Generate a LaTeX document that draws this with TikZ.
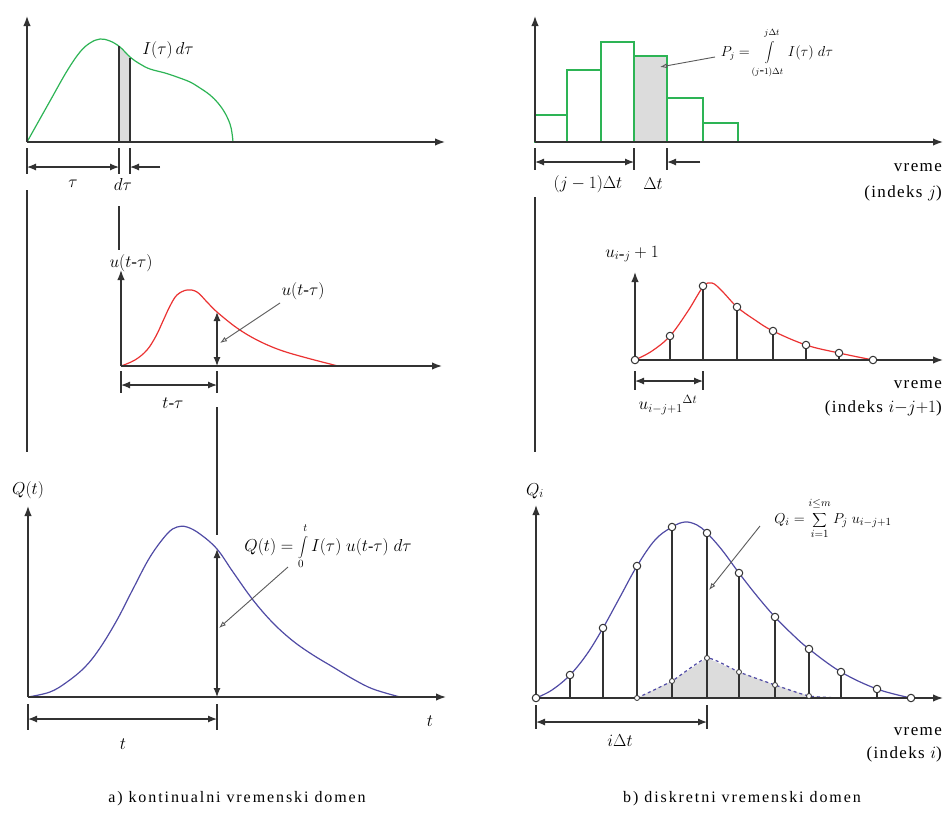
\documentclass[tikz,border=0pt]{standalone}
\usepackage{fontspec}
\setmainfont{Liberation Serif}
\usetikzlibrary{arrows.meta}
\definecolor{axc}{RGB}{50,50,50}
\definecolor{grn}{RGB}{45,180,85}
\definecolor{rd}{RGB}{235,50,50}
\definecolor{bl}{RGB}{80,75,165}
\definecolor{shd}{RGB}{220,220,220}
\definecolor{ptrc}{RGB}{90,90,90}
\newcommand{\uplim}[2]{\raisebox{#1}{$\scriptstyle #2$}}
\tikzset{
  axarrow/.style={draw=axc, line width=1.5pt, -{Latex[length=10pt,width=7.5pt]}},
  dimln/.style={draw=axc, line width=1.2pt, {Latex[length=9pt,width=7pt]}-{Latex[length=9pt,width=7pt]}},
  onearr/.style={draw=axc, line width=1.2pt, -{Latex[length=9pt,width=7pt]}},
  dimtick/.style={draw=axc, line width=1.2pt},
  connline/.style={draw=axc, line width=1.3pt},
  ptrarrow/.style={draw=ptrc, line width=0.9pt, -{Latex[length=7pt,width=5pt,open]}},
  lbl/.style={font=\fontsize{17}{19}\selectfont\addfontfeatures{LetterSpace=8}, inner sep=0pt},
  captxt/.style={font=\fontsize{16}{18}\selectfont\addfontfeatures{LetterSpace=12}, inner sep=0pt},
  bigdot/.style={circle, draw=axc, fill=white, line width=1pt, minimum size=7.5pt, inner sep=0pt},
  smalldot/.style={circle, draw=axc, fill=white, line width=0.8pt, minimum size=5pt, inner sep=0pt},
  crv/.style={line width=1.2pt},
}
\begin{document}
\begin{tikzpicture}[x=1pt,y=-1pt]
\useasboundingbox (0,0) rectangle (943,814);
\fill[white] (0,0) rectangle (943,814);

%================ TOP LEFT =================
\coordinate (tlO) at (27,142);
\fill[shd] (119,142) -- (119,46) -- (125,52) -- (130,58) -- (130,142) -- cycle;
\draw[grn,crv] plot[smooth, tension=0.6] coordinates {(27,142) (50,101) (67,71) (80,52) (90,43) (100,39) (110,41) (120,47) (130,57) (140,64) (150,69) (165,73) (177,77) (190,82) (200,88) (210,95) (218,103) (225,113) (230,124) (232,133) (233,142)};
\draw[axc, line width=1.6pt] (119,142) -- (119,46);
\draw[axc, line width=1.6pt] (130,142) -- (130,58);
\draw[axarrow] (27,142) -- (27,16);
\draw[axarrow] (tlO) -- (445,142);
\node[lbl] (Ilab) at (168,50) {$I(\tau)\,d\tau$};
% dimensions
\draw[dimtick] (27,148) -- (27,174);
\draw[dimtick] (119,148) -- (119,174);
\draw[dimtick] (130,148) -- (130,174);
\coordinate (dA1) at (27,167); \coordinate (dA2) at (119,167);
\draw[dimln] (dA1) -- (dA2);
\coordinate (dB1) at (160,167); \coordinate (dB2) at (130,167);
\draw[onearr] (dB1) -- (dB2);
\node[lbl] (taulab) at (73,184) {$\tau$};
\node[lbl] (dtaulab) at (123,184) {$d\tau$};
% connecting lines
\draw[connline] (27,190) -- (27,452);
\draw[connline] (119,206) -- (119,250);

%================ MIDDLE LEFT =================
\coordinate (mlO) at (121,366);
\draw[rd,crv] plot[smooth, tension=0.6] coordinates {(121,366) (135,360) (147,350) (156,336) (163,321) (170,306) (177,295) (187,290) (197,292) (207,302) (217,312) (237,328) (257,340) (280,350) (307,358) (338,366)};
\draw[axarrow] (mlO) -- (121,270);
\draw[axarrow] (mlO) -- (442,366);
\node[lbl] (ulab1) at (131,263) {$u(t\mbox{-}\tau)$};
\coordinate (mlT) at (217,312); \coordinate (mlB) at (217,366);
\draw[dimln] (mlB) -- (mlT);
\node[lbl] (ulab2) at (303,291) {$u(t\mbox{-}\tau)$};
\coordinate (mlP) at (220,343);
\draw[ptrarrow] (280,303) -- (mlP);
\draw[dimtick] (121,371) -- (121,393);
\draw[dimtick] (217,371) -- (217,393);
\draw[dimln] (121,385) -- (217,385);
\node[lbl] (ttaulab) at (173,403) {$t\mbox{-}\tau$};
\draw[connline] (217,407) -- (217,535);

%================ BOTTOM LEFT =================
\coordinate (blO) at (28,697);
\draw[bl,crv] plot[smooth, tension=0.6] coordinates {(28,697) (50,692) (67,682) (85,667) (100,648) (117,620) (133,589) (150,557) (167,534) (177,527) (187,527) (200,534) (217,549) (233,572) (253,600) (273,623) (293,641) (313,655) (333,667) (353,679) (373,689) (400,697)};
\draw[axarrow] (blO) -- (28,506);
\draw[axarrow] (blO) -- (446,697);
\node[lbl] (Qlab) at (28,490) {$Q(t)$};
\coordinate (blT) at (217,549); \coordinate (blB) at (217,697);
\draw[dimln] (blB) -- (blT);
\node[lbl, font=\fontsize{16}{18}\selectfont] (Qform) at (328,546) {$\displaystyle Q(t) = \int\limits_{\uplim{-3pt}{0}}^{\uplim{3pt}{t}} I(\tau)\; u(t\mbox{-}\tau)\; d\tau$};
\coordinate (blP) at (219,628);
\draw[ptrarrow] (288,567) -- (blP);
\draw[dimtick] (28,704) -- (28,730);
\draw[dimtick] (217,704) -- (217,730);
\draw[dimln] (28,719) -- (217,719);
\node[lbl] (tlab) at (123,744) {$t$};
\node[lbl] (taxlab) at (430,721) {$t$};

%================ TOP RIGHT =================
\coordinate (trO) at (535,142);
\fill[shd] (634,142) rectangle (667,56);
\draw[grn, line width=1.4pt] (535,142) rectangle (567,115);
\draw[grn, line width=1.4pt] (567,142) rectangle (601,70);
\draw[grn, line width=1.4pt] (601,142) rectangle (634,42);
\draw[grn, line width=1.4pt] (634,142) rectangle (667,56);
\draw[grn, line width=1.4pt] (667,142) rectangle (703,98);
\draw[grn, line width=1.4pt] (703,142) rectangle (738,123);
\draw[axarrow] (trO) -- (535,16);
\draw[axarrow] (trO) -- (943,142);
\node[lbl, font=\fontsize{13.5}{15}\selectfont] (Pform) at (777,53) {$\displaystyle P_j = \int\limits_{\uplim{-4pt}{(j\mbox{-}1)\Delta t}}^{\uplim{4pt}{j\Delta t}} I(\tau)\; d\tau$};
\coordinate (trP) at (660,67);
\draw[ptrarrow] (715,57) -- (trP);
\draw[dimtick] (535,148) -- (535,170);
\draw[dimtick] (634,148) -- (634,170);
\draw[dimtick] (667,148) -- (667,170);
\draw[dimln] (535,162) -- (634,162);
\draw[onearr] (700,162) -- (667,162);
\node[lbl] (jlab) at (588,184) {$(j-1)\Delta t$};
\node[lbl] (Dtlab) at (653,184) {$\Delta t$};
\node[lbl, anchor=east] (vr1) at (942,168) {vreme};
\node[lbl, anchor=east] (ix1) at (942,193) {(indeks $j$)};
\draw[connline] (535,197) -- (535,452);

%================ MIDDLE RIGHT =================
\coordinate (mrO) at (635,360);
\draw[rd,crv] plot[smooth, tension=0.6] coordinates {(635,360) (652,351) (670,336) (688,311) (703,287) (712,283) (722,291) (737,307) (755,320) (773,331) (806,345) (839,353) (873,360)};
\foreach \n/\x/\y in {2/670/336, 3/703/286, 4/737/307, 5/773/331, 6/806/345, 7/839/353} {
  \draw[axc, line width=1.1pt] (\x,360) -- (\x,\y);
}
\draw[axarrow] (mrO) -- (635,272);
\draw[axarrow] (mrO) -- (943,360);
\foreach \n/\x/\y in {1/635/360, 2/670/336, 3/703/286, 4/737/307, 5/773/331, 6/806/345, 7/839/353, 8/873/360} {
  \node[bigdot] (u\n) at (\x,\y) {};
}
\node[lbl] (ulabr) at (632,254) {$u_{i\mbox{-}j}+1$};
\draw[dimtick] (635,371) -- (635,390);
\draw[dimtick] (703,371) -- (703,390);
\draw[dimln] (635,381) -- (703,381);
\node[lbl] (udtlab) at (668,405) {$u_{i-j+1}{}^{\Delta t}$};
\node[lbl, anchor=east] (vr2) at (942,385) {vreme};
\node[lbl, anchor=east] (ix2) at (942,408) {(indeks $i{-}j{+}1$)};

%================ BOTTOM RIGHT =================
\coordinate (brO) at (536,698);
\fill[shd] plot coordinates {(637,698) (672,681) (707,658) (739,672) (775,685) (809,696) (841,698)} -- cycle;
\draw[bl,crv] plot[smooth, tension=0.6] coordinates {(536,698) (552,690) (570,675) (587,654) (603,628) (620,597) (637,566) (655,540) (672,527) (685,522) (697,525) (707,533) (722,550) (739,573) (757,596) (775,617) (792,634) (809,649) (841,672) (877,689) (911,698)};
\draw[bl, line width=1.2pt, dashed] plot[smooth, tension=0.3] coordinates {(637,698) (672,681) (707,658) (739,672) (775,685) (809,696) (841,698)};
\foreach \n/\x/\y in {2/570/675, 3/603/628, 4/637/566, 5/672/527, 6/707/533, 7/739/573, 8/775/617, 9/809/649, 10/841/672, 11/877/689} {
  \draw[axc, line width=1.2pt] (\x,698) -- (\x,\y);
}
\draw[axarrow] (brO) -- (536,505);
\draw[axarrow] (brO) -- (943,698);
\foreach \n/\x/\y in {1/637/698, 2/672/681, 3/707/658, 4/739/672, 5/775/685, 6/809/696} {
  \node[smalldot] (s\n) at (\x,\y) {};
}
\foreach \n/\x/\y in {1/536/698, 2/570/675, 3/603/628, 4/637/566, 5/672/527, 6/707/533, 7/739/573, 8/775/617, 9/809/649, 10/841/672, 11/877/689, 12/911/698} {
  \node[bigdot] (q\n) at (\x,\y) {};
}
\node[lbl] (Qilab) at (535,491) {$Q_i$};
\node[lbl, font=\fontsize{15}{17}\selectfont] (Qiform) at (833,518) {$\displaystyle Q_i = \sum\limits_{\uplim{-3pt}{i=1}}^{\uplim{4pt}{i\le m}} P_j\; u_{i-j+1}$};
\coordinate (brP) at (709,590);
\draw[ptrarrow] (760,526) -- (brP);
\draw[dimtick] (536,705) -- (536,729);
\draw[dimtick] (707,705) -- (707,729);
\draw[dimln] (536,722) -- (707,722);
\node[lbl] (idtlab) at (620,741) {$i\Delta t$};
\node[lbl, anchor=east] (vr3) at (942,732) {vreme};
\node[lbl, anchor=east] (ix3) at (942,754) {(indeks $i$)};

%================ CAPTIONS =================
\node[captxt] (capa) at (237,799) {a) kontinualni vremenski domen};
\node[captxt] (capb) at (742,799) {b) diskretni vremenski domen};
\end{tikzpicture}
\end{document}
